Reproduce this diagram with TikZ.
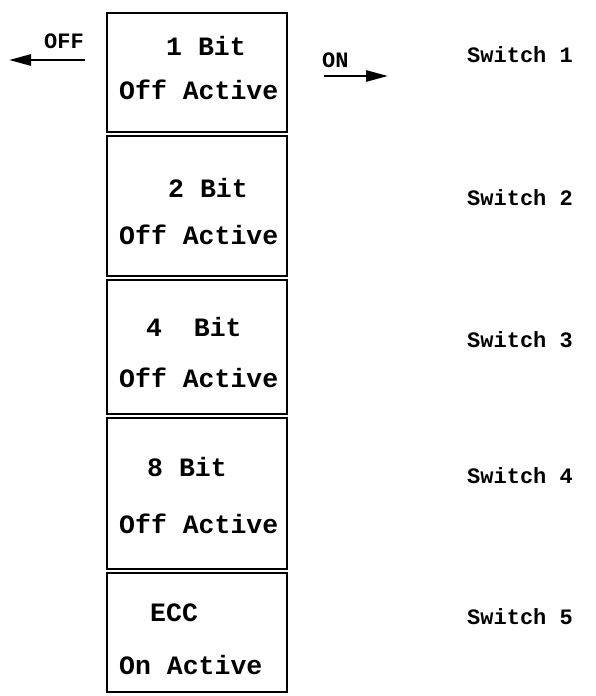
\documentclass[tikz,border=0pt]{standalone}
\usepackage{fontspec}
\setmonofont{Liberation Mono}
\usetikzlibrary{arrows.meta}

\begin{document}
\begin{tikzpicture}[x=1pt,y=-1pt,
    cell/.style={draw,line width=2.8pt},
    boxtext/.style={anchor=west,inner sep=0pt,font=\ttfamily\bfseries\fontsize{26.5}{26.5}\selectfont},
    swlabel/.style={anchor=west,inner sep=0pt,font=\ttfamily\bfseries\fontsize{22}{22}\selectfont},
    dirarrow/.style={-{Triangle[length=22pt,width=11pt]},line width=2.6pt}]
  \useasboundingbox (0,0) rectangle (595,696);
  % the five switch cells
  \draw[cell] (107,13) rectangle (287,132);
  \draw[cell] (107,136) rectangle (287,276);
  \draw[cell] (107,280) rectangle (287,414);
  \draw[cell] (107,418) rectangle (287,569);
  \draw[cell] (107,573) rectangle (287,692);
  \node[boxtext] (bit1) at (166,46) {1 Bit};
  \node[boxtext] (off1) at (119,90) {Off Active};
  \node[boxtext] (bit2) at (168,188) {2 Bit};
  \node[boxtext] (off2) at (119,235) {Off Active};
  \node[boxtext] (bit4) at (146,327) {4\ \ Bit};
  \node[boxtext] (off4) at (119,378) {Off Active};
  \node[boxtext] (bit8) at (147,467) {8 Bit};
  \node[boxtext] (off8) at (119,524) {Off Active};
  \node[boxtext] (ecc) at (150,613) {ECC};
  \node[boxtext] (on5) at (119,665) {On Active};
  % switch names
  \node[swlabel] (sw1) at (467,55) {Switch 1};
  \node[swlabel] (sw2) at (467,198) {Switch 2};
  \node[swlabel] (sw3) at (467,340) {Switch 3};
  \node[swlabel] (sw4) at (467,476) {Switch 4};
  \node[swlabel] (sw5) at (467,617) {Switch 5};
  % off / on directions
  \coordinate (offstart) at (85,60);
  \coordinate (offend) at (9,60);
  \coordinate (onstart) at (324,76);
  \coordinate (onend) at (388,76);
  \node[swlabel,anchor=south west] (offtext) at (44,49) {OFF};
  \node[swlabel,anchor=south west] (ontext) at (322,68) {ON};
  \draw[dirarrow] (offstart) -- (offend);
  \draw[dirarrow] (onstart) -- (onend);
\end{tikzpicture}
\end{document}
